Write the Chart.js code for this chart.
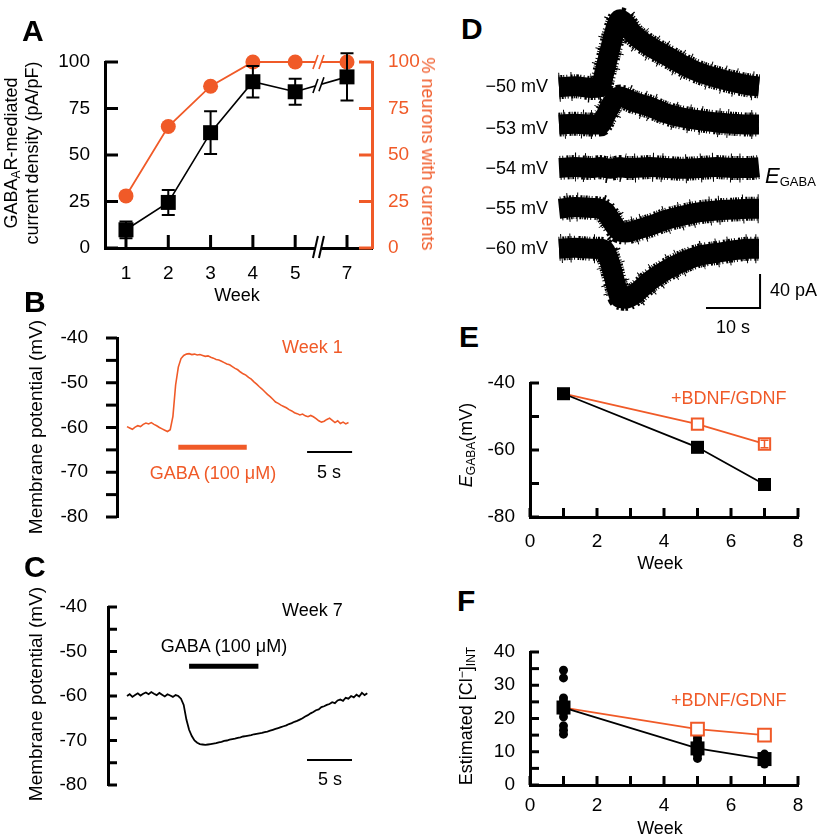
<!DOCTYPE html>
<html><head><meta charset="utf-8">
<script src="https://cdn.jsdelivr.net/npm/chart.js@4.4.1/dist/chart.umd.min.js"></script>
<style>
html,body{margin:0;padding:0;background:#fff;}
#fig{position:relative;width:820px;height:838px;overflow:hidden;background:#fff;font-family:'Liberation Sans',Arial,Helvetica,sans-serif;}
#fig canvas{position:absolute;}
.t{position:absolute;white-space:nowrap;line-height:1;}
.t sub,.t sup{font-size:12px;line-height:0;}
.t sub{vertical-align:-3px;}
.t sup{vertical-align:6px;}
</style></head><body><div id="fig"></div>
<script>
// ---------------- DATA ----------------
// Panel A
const weeksA = [1, 2, 3, 4, 5, 7];
const densityA = [9.8, 24.5, 62, 89.4, 84, 92];          // pA/pF
const densityErrA = [4.5, 6.7, 11.5, 8.5, 7, 12.7];
const pctNeuronsA = [28, 65.3, 87, 100, 100, 100];         // %

// Panel B (week 1 trace, sampled every dtB s)
const dtB = 0.3;
const vmB = [-59.8,-60.1,-60.4,-59.9,-59.6,-59.8,-59.3,-59.0,-59.2,-58.9,-59.3,-59.6,-60.0,-60.3,-60.6,-60.9,-60.5,
 -57.5,-50.5,-46.5,-44.6,-43.9,-43.6,-43.5,-43.7,-43.6,-43.8,-43.7,-43.9,-44.1,-44.0,-44.3,-44.5,-44.8,-44.9,-45.2,
 -45.5,-45.8,-46.0,-46.4,-46.8,-47.1,-47.6,-48.0,-48.3,-48.8,-49.2,-49.8,-50.3,-50.9,-51.4,-52.0,-52.6,-53.1,-53.7,
 -54.3,-54.6,-55.0,-55.3,-55.6,-56.0,-56.3,-56.7,-56.9,-57.2,-57.0,-57.4,-57.6,-57.3,-57.6,-58.0,-58.5,-58.8,-58.6,
 -58.2,-57.9,-58.4,-58.9,-58.5,-59.1,-58.8,-59.2,-58.9];
const gabaB = [5.7, 13.3];      const gabaLevelB = -64.4;
const scaleBarB = [20, 25];     const scaleLevelB = -65.5;

// Panel C (week 7 trace)
const dtC = 0.3;
const vmC = [-60.0,-59.6,-60.2,-59.8,-59.4,-59.9,-59.5,-59.2,-59.6,-59.1,-59.5,-59.8,-59.3,-59.7,-60.1,-59.6,-59.9,-60.2,-59.8,-60.0,-60.6,
 -62.0,-65.3,-67.6,-69.0,-70.0,-70.5,-70.8,-70.9,-71.0,-70.9,-70.8,-70.7,-70.6,-70.4,-70.3,-70.1,-70.0,-69.8,-69.7,-69.6,
 -69.4,-69.3,-69.1,-69.0,-68.9,-68.8,-68.6,-68.5,-68.4,-68.3,-68.1,-68.0,-67.8,-67.6,-67.4,-67.2,-67.0,-66.8,-66.6,-66.3,
 -66.1,-65.8,-65.6,-65.3,-65.0,-64.6,-64.3,-63.9,-63.6,-63.2,-63.0,-62.5,-62.3,-62.0,-61.8,-61.4,-61.6,-61.0,-60.8,-61.1,
 -60.4,-60.6,-60.0,-60.3,-59.7,-60.1,-59.3,-59.8,-59.4];
const gabaC = [6.9, 14.6];      const gabaLevelC = -53.3;
const scaleBarC = [20, 25];     const scaleLevelC = -74.4;

// Panel D (currents, pA, relative to holding baseline)
const holdingD = ['\u221250 mV', '\u221253 mV', '\u221254 mV', '\u221255 mV', '\u221260 mV'];
const tD   = [0, 3, 6, 7.6, 8.5, 9.5, 10.5, 11.3, 12.3, 13.7, 16.8, 19.9, 23.0, 26.1, 29.2, 32.2, 35.3, 37];
const iD50 = [0, 1, -1, 0, 20, 46, 70, 80, 75, 63, 48, 37, 26, 17, 11, 6, 2, 1];
const iD53 = [0, 1, 0, 0, 9, 22, 31, 33, 31, 27, 21, 13, 8, 5, 2.5, 1, 0, 0];
const iD54 = [0, 1, 0, 1, 0, -1, 0, 1, 0, 0, 1, 0, -1, 0, 1, 0, 0, 1];
const iD55 = [0, 2, 1, 0, -3, -12, -22, -27, -28, -26, -20, -13, -8, -4, -2, -1, 0, 0];
const iD60 = [0, 1, 0, 0, -2, -18, -42, -58, -59, -55, -38, -25, -15, -8, -5, -2, 0, 0];
const scaleBarD_s = 10, scaleBarD_pA = 40;

// Panel E
const weeksE = [1, 5, 7];
const egabaCtrl = [-43.2, -59.2, -70.3];
const egabaBdnf = [-43.2, -52.3, -58.2];
const egabaBdnfErr = [0, 0, 1.1];

// Panel F
const weeksF = [1, 5, 7];
const clCtrlMean = [23.3, 11.0, 7.8];
const clBdnfMean = [23.3, 16.8, 15.0];
const clCellsW1 = [34.5, 32.2, 26.2, 25.2, 24.0, 22.8, 21.7, 20.5, 17.8, 16.5, 15.3];
const clCellsW5 = [15.0, 14.0, 13.0, 12.0, 11.0, 10.0, 9.0, 8.0];
const clCellsW7 = [9.3, 8.5, 7.8, 7.0, 6.3];

// ---------------- LAYOUT / STYLE ----------------
const ORANGE = '#F05A28';
const FONT = "'Liberation Sans', Arial, Helvetica, sans-serif";
Chart.defaults.font.family = FONT;
Chart.defaults.font.size = 19;
Chart.defaults.color = '#000';
const fig = document.getElementById('fig');

function makeCanvas(L, T, W, H) {
  const c = document.createElement('canvas');
  c.width = W; c.height = H;
  c.style.left = L + 'px'; c.style.top = T + 'px';
  c.style.width = W + 'px'; c.style.height = H + 'px';
  fig.appendChild(c);
  return c;
}
function addText(html, x, y, o = {}) {
  const d = document.createElement('div');
  d.className = 't';
  d.innerHTML = html;
  d.style.fontSize = (o.size || 18) + 'px';
  d.style.color = o.color || '#000';
  if (o.bold) d.style.fontWeight = 'bold';
  if (o.lh) d.style.lineHeight = o.lh + 'px';
  if (o.center) d.style.textAlign = 'center';
  d.style.left = x + 'px'; d.style.top = y + 'px';
  const tx = o.align === 'left' ? '0' : o.align === 'right' ? '-100%' : '-50%';
  d.style.transform = 'translate(' + tx + ',-50%)' + (o.rot ? ' rotate(' + o.rot + 'deg)' : '');
  fig.appendChild(d);
}
function axis(o) {
  const col = o.color || '#000';
  return {
    type: 'linear', position: o.position, min: o.min, max: o.max,
    border: { display: true, color: col, width: 3 },
    grid: { display: false, drawTicks: false },
    ticks: { stepSize: o.step, padding: o.pad, color: col, autoSkip: false, maxRotation: 0, callback: o.cb || (v => v) },
    afterFit: sc => {
      if (o.width !== undefined) sc.width = o.width;
      if (o.height !== undefined) sc.height = o.height;
      sc.paddingTop = sc.paddingBottom = sc.paddingLeft = sc.paddingRight = 0;
    },
    afterBuildTicks: o.afterBuildTicks
  };
}
const hidden = (min, max) => ({ type: 'linear', display: false, min, max });
const baseOpts = (padding, scales, plugins = {}) => ({
  responsive: false, animation: false, devicePixelRatio: 1,
  layout: { padding },
  plugins: Object.assign({ legend: { display: false }, tooltip: { enabled: false } }, plugins),
  scales
});
const xy = (xs, ys) => xs.map((x, i) => ({ x, y: ys[i] }));

function tickPlugin(spec) {
  return {
    id: 'tickMarks',
    afterDraw(chart) {
      const ctx = chart.ctx;
      Object.keys(spec).forEach(id => {
        const sc = chart.scales[id], o = spec[id];
        const d = o.dir === 'out' ? -1 : 1;
        ctx.save();
        ctx.strokeStyle = o.color || '#000'; ctx.lineWidth = 3; ctx.lineCap = 'butt';
        sc.ticks.forEach(t => {
          const p = sc.getPixelForValue(t.value);
          ctx.beginPath();
          if (sc.position === 'left') { ctx.moveTo(sc.right, p); ctx.lineTo(sc.right + d * o.len, p); }
          else if (sc.position === 'right') { ctx.moveTo(sc.left, p); ctx.lineTo(sc.left - d * o.len, p); }
          else { ctx.moveTo(p, sc.top); ctx.lineTo(p, sc.top - d * o.len); }
          ctx.stroke();
        });
        ctx.restore();
      });
    }
  };
}
const errorBarPlugin = {
  id: 'errorBars',
  afterDatasetsDraw(chart) {
    const ctx = chart.ctx;
    chart.data.datasets.forEach((ds, di) => {
      if (!ds.errorBars) return;
      const meta = chart.getDatasetMeta(di);
      const ys = chart.scales[meta.yAxisID];
      ctx.save();
      ctx.strokeStyle = ds.errorColor || ds.borderColor;
      ctx.lineWidth = ds.errorWidth || 2;
      meta.data.forEach((pt, i) => {
        const e = ds.errorBars[i];
        if (!e) return;
        const v = ds.data[i].y;
        const yT = ys.getPixelForValue(v + e), yB = ys.getPixelForValue(v - e);
        const w = (ds.errorCap || 12) / 2;
        ctx.beginPath();
        ctx.moveTo(pt.x, yT); ctx.lineTo(pt.x, yB);
        ctx.moveTo(pt.x - w, yT); ctx.lineTo(pt.x + w, yT);
        ctx.moveTo(pt.x - w, yB); ctx.lineTo(pt.x + w, yB);
        ctx.stroke();
      });
      ctx.restore();
    });
  }
};
function breakPlugin(at) {
  return {
    id: 'axisBreak',
    afterDraw(chart) {
      const ctx = chart.ctx;
      const px = chart.scales.x.getPixelForValue(at);
      const yb = chart.chartArea.bottom;
      ctx.save();
      ctx.fillStyle = '#fff';
      ctx.fillRect(px - 3, yb - 3, 6, 6);
      ctx.strokeStyle = '#000'; ctx.lineWidth = 2;
      [-3, 3].forEach(dx => { ctx.beginPath(); ctx.moveTo(px + dx - 2.5, yb + 10); ctx.lineTo(px + dx + 2.5, yb - 12); ctx.stroke(); });
      chart.data.datasets.forEach((ds, di) => {
        const pts = chart.getDatasetMeta(di).data;
        for (let i = 0; i < pts.length - 1; i++) {
          const a = pts[i], b = pts[i + 1];
          if (a.x <= px && b.x >= px) {
            const sl = (b.y - a.y) / (b.x - a.x);
            const y = a.y + sl * (px - a.x);
            ctx.strokeStyle = '#fff'; ctx.lineWidth = 5;
            ctx.beginPath(); ctx.moveTo(px - 3, y - 3 * sl); ctx.lineTo(px + 3, y + 3 * sl); ctx.stroke();
            ctx.strokeStyle = ds.borderColor; ctx.lineWidth = 1.6;
            [-3, 3].forEach(dx => { const yy = y + dx * sl; ctx.beginPath(); ctx.moveTo(px + dx - 2.5, yy + 7); ctx.lineTo(px + dx + 2.5, yy - 7); ctx.stroke(); });
          }
        }
      });
      ctx.restore();
    }
  };
}

// ---------------- PANEL A ----------------
const A_POS_OF_7 = 6.225;   // axis position of week 7 after the axis break
const A_BREAK_AT = 5.55;
const posA = w => (w <= 5 ? w : 5 + (w - 5) * (A_POS_OF_7 - 5) / 2);
new Chart(makeCanvas(0, 40, 420, 250), {
  type: 'line',
  data: { datasets: [
    { data: xy(weeksA.map(posA), densityA), yAxisID: 'y', borderColor: '#000', borderWidth: 1.6,
      pointStyle: 'rect', pointRadius: 10.6, pointBackgroundColor: '#000', pointBorderWidth: 0, clip: false,
      errorBars: densityErrA, errorCap: 13, errorWidth: 2 },
    { data: xy(weeksA.map(posA), pctNeuronsA), yAxisID: 'y2', borderColor: ORANGE, borderWidth: 1.8,
      pointStyle: 'circle', pointRadius: 7.5, pointBackgroundColor: ORANGE, pointBorderWidth: 0, clip: false }
  ]},
  options: baseOpts({ top: 22, left: 0, right: 0, bottom: 0 }, {
    x: axis({ position: 'bottom', min: 0.504, max: 6.816, pad: 14, height: 42,
      afterBuildTicks: s => { s.ticks = weeksA.map(w => ({ value: posA(w) })); },
      cb: v => { const i = weeksA.findIndex(w => Math.abs(posA(w) - v) < 1e-6); return i >= 0 ? String(weeksA[i]) : ''; } }),
    y: axis({ position: 'left', min: 0, max: 100, step: 25, pad: 15, width: 105 }),
    y2: axis({ position: 'right', min: 0, max: 100, step: 25, pad: 16, width: 48, color: ORANGE })
  }),
  plugins: [errorBarPlugin, breakPlugin(A_BREAK_AT),
    tickPlugin({ x: { len: 13 }, y: { len: 13 }, y2: { len: 13, color: ORANGE } })]
});

// ---------------- PANEL B ----------------
new Chart(makeCanvas(0, 300, 380, 235), {
  type: 'line',
  data: { datasets: [
    { data: vmB.map((v, i) => ({ x: i * dtB, y: v })), borderColor: ORANGE, borderWidth: 1.6, pointRadius: 0, clip: false },
    { data: xy(gabaB, [gabaLevelB, gabaLevelB]), borderColor: ORANGE, borderWidth: 5, pointRadius: 0, clip: false },
    { data: xy(scaleBarB, [scaleLevelB, scaleLevelB]), borderColor: '#000', borderWidth: 2, pointRadius: 0, clip: false }
  ]},
  options: baseOpts({ top: 38, right: 18, bottom: 18, left: 0 }, {
    x: hidden(-1.11, 26.1),
    y: axis({ position: 'left', min: -80, max: -40, step: 5, pad: 29, width: 117, cb: v => (v % 10 === 0 ? v : '') })
  }),
  plugins: [tickPlugin({ y: { len: 11, dir: 'out' } })]
});

// ---------------- PANEL C ----------------
new Chart(makeCanvas(0, 570, 390, 230), {
  type: 'line',
  data: { datasets: [
    { data: vmC.map((v, i) => ({ x: i * dtC, y: v })), borderColor: '#000', borderWidth: 1.8, pointRadius: 0, clip: false },
    { data: xy(gabaC, [gabaLevelC, gabaLevelC]), borderColor: '#000', borderWidth: 5, pointRadius: 0, clip: false },
    { data: xy(scaleBarC, [scaleLevelC, scaleLevelC]), borderColor: '#000', borderWidth: 2, pointRadius: 0, clip: false }
  ]},
  options: baseOpts({ top: 37, right: 20, bottom: 15, left: 0 }, {
    x: hidden(-2.11, 27.0),
    y: axis({ position: 'left', min: -80, max: -40, step: 5, pad: 21, width: 108, cb: v => (v % 10 === 0 ? v : '') })
  }),
  plugins: [tickPlugin({ y: { len: 9 } })]
});

// ---------------- PANEL D ----------------
const D_TRACES = [iD50, iD53, iD54, iD55, iD60];
const D_BASE = [268, 224, 173, 125, 78];   // layout: stacking offsets of the traces (pA units)
const D_BAR_T0 = 27.2, D_BAR_Y0 = 8.2;     // layout: scale-bar corner
// style: ragged noise edge of the thick traces (dense short fuzz + sparse longer spikes)
const D_FUZZ_FINE = [1, 1, 2, 1, 1, 2, 1, 3, 2, 1];
const D_FUZZ_SPIKE = [1, 11, 1, 17, 1, 8, 1, 23, 1, 14];
const dTraceSets = [];
D_TRACES.forEach((arr, k) => {
  const pts = tD.map((t, i) => ({ x: t, y: D_BASE[k] + arr[i] }));
  const common = { data: pts, borderColor: '#000', pointRadius: 0, cubicInterpolationMode: 'monotone', clip: false };
  dTraceSets.push(Object.assign({ borderWidth: 20, borderJoinStyle: 'round' }, common));
  dTraceSets.push(Object.assign({ borderWidth: 24, borderDash: D_FUZZ_FINE, borderDashOffset: k * 2 }, common));
  dTraceSets.push(Object.assign({ borderWidth: 29, borderDash: D_FUZZ_SPIKE, borderDashOffset: k * 7 }, common));
});
dTraceSets.push({
  data: [{ x: D_BAR_T0, y: D_BAR_Y0 }, { x: D_BAR_T0 + scaleBarD_s, y: D_BAR_Y0 }, { x: D_BAR_T0 + scaleBarD_s, y: D_BAR_Y0 + scaleBarD_pA }],
  borderColor: '#000', borderWidth: 2, pointRadius: 0, clip: false
});
new Chart(makeCanvas(540, 0, 230, 320), {
  type: 'line',
  data: { datasets: dTraceSets },
  options: baseOpts({ top: 0, right: 0, bottom: 5, left: 19 }, {
    x: hidden(0, 39.04), y: hidden(0, 370.6)
  })
});

// ---------------- PANEL E ----------------
new Chart(makeCanvas(450, 360, 370, 200), {
  type: 'line',
  data: { datasets: [
    { data: xy(weeksE, egabaBdnf), showLine: false, pointStyle: 'rect', pointRadius: [0, 8, 8],
      pointBackgroundColor: '#fff', pointBorderColor: ORANGE, pointBorderWidth: 2, borderColor: ORANGE, clip: false,
      errorBars: egabaBdnfErr, errorCap: 8, errorWidth: 1.5 },
    { data: xy(weeksE, egabaCtrl), borderColor: '#000', borderWidth: 1.8, pointStyle: 'rect', pointRadius: 9.2,
      pointBackgroundColor: '#000', pointBorderWidth: 0, clip: false },
    { data: xy(weeksE, egabaBdnf), borderColor: ORANGE, borderWidth: 1.8, pointRadius: 0, clip: false }
  ]},
  options: baseOpts({ top: 23, right: 22, bottom: 0, left: 0 }, {
    x: axis({ position: 'bottom', min: 0, max: 8, step: 1, pad: 13, height: 43, cb: v => (v % 2 === 0 ? v : '') }),
    y: axis({ position: 'left', min: -80, max: -40, step: 10, pad: 15, width: 80, cb: v => (v % 20 === 0 ? v : '') })
  }),
  plugins: [errorBarPlugin, tickPlugin({ x: { len: 9 }, y: { len: 9 } })]
});

// ---------------- PANEL F ----------------
const cellsF = [].concat(clCellsW1.map(v => ({ x: 1, y: v })), clCellsW5.map(v => ({ x: 5, y: v })), clCellsW7.map(v => ({ x: 7, y: v })));
new Chart(makeCanvas(450, 630, 370, 208), {
  type: 'line',
  data: { datasets: [
    { data: xy(weeksF, clBdnfMean), showLine: false, pointStyle: 'rect', pointRadius: [0, 9, 9],
      pointBackgroundColor: '#fff', pointBorderColor: ORANGE, pointBorderWidth: 2, borderColor: ORANGE, clip: false },
    { data: xy(weeksF, clCtrlMean), borderColor: '#000', borderWidth: 1.8, pointStyle: 'rect', pointRadius: 9.9,
      pointBackgroundColor: '#000', pointBorderWidth: 0, clip: false },
    { data: cellsF, showLine: false, pointStyle: 'circle', pointRadius: 4.5, pointBackgroundColor: '#000', pointBorderWidth: 0, clip: false },
    { data: xy(weeksF, clBdnfMean), borderColor: ORANGE, borderWidth: 1.8, pointRadius: 0, clip: false }
  ]},
  options: baseOpts({ top: 22, right: 22, bottom: 0, left: 0 }, {
    x: axis({ position: 'bottom', min: 0, max: 8, step: 1, pad: 9, height: 53, cb: v => (v % 2 === 0 ? v : '') }),
    y: axis({ position: 'left', min: 0, max: 40, step: 5, pad: 15, width: 80, cb: v => (v % 10 === 0 ? v : '') })
  }),
  plugins: [tickPlugin({ x: { len: 9 }, y: { len: 9 } })]
});

// ---------------- TEXT ----------------
[['A', 22, 31], ['B', 24, 302], ['C', 24, 567], ['D', 461, 29], ['E', 459, 337], ['F', 457, 601]]
  .forEach(([s, x, y]) => addText(s, x, y, { size: 30, bold: true, align: 'left' }));
// A
addText('GABA<sub>A</sub>R-mediated<br>current density (pA/pF)', 22, 153, { rot: -90, lh: 21, center: true });
addText('% neurons with currents', 428, 154, { rot: 90, color: ORANGE });
addText('Week', 237, 295);
// B
addText('Membrane potential (mV)', 35, 427, { rot: -90, size: 19 });
addText('Week 1', 282, 347, { align: 'left', color: ORANGE });
addText('GABA (100 \u03bcM)', 213, 473, { color: ORANGE });
addText('5 s', 329, 472);
// C
addText('Membrane potential (mV)', 35, 694, { rot: -90, size: 19 });
addText('Week 7', 282, 610, { align: 'left' });
addText('GABA (100 \u03bcM)', 224, 646);
addText('5 s', 330, 779);
// D
const D_LABEL_Y = [86, 128, 168, 208, 248];
holdingD.forEach((s, k) => addText(s, 548, D_LABEL_Y[k], { align: 'right' }));
addText('<i style="font-size:22px">E</i><sub style="font-size:13px">GABA</sub>', 765, 176, { align: 'left' });
addText('40 pA', 770, 290, { align: 'left' });
addText('10 s', 733, 327);
// E
addText('<i>E</i><sub>GABA</sub>(mV)', 466, 445, { rot: -90 });
addText('+BDNF/GDNF', 671, 398, { align: 'left', color: ORANGE });
addText('Week', 660, 563);
// F
addText('Estimated [Cl<sup>\u2212</sup>]<sub>INT</sub>', 466, 716, { rot: -90 });
addText('+BDNF/GDNF', 671, 700, { align: 'left', color: ORANGE });
addText('Week', 660, 828);
</script></body></html>
